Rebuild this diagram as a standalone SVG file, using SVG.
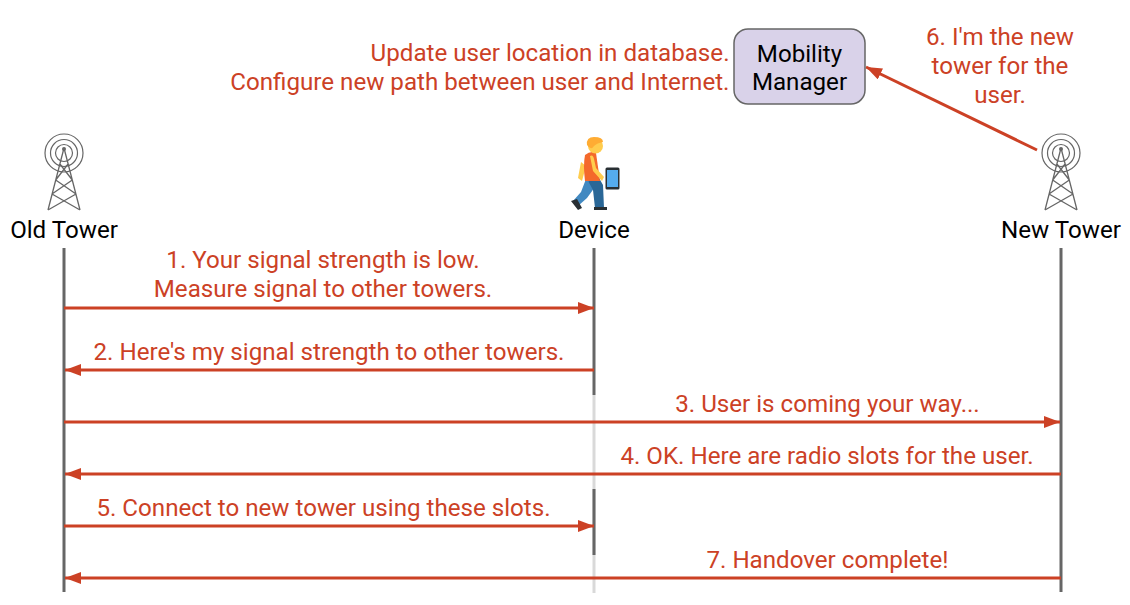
<svg xmlns="http://www.w3.org/2000/svg" width="1130" height="605" viewBox="0 0 1130 605">
<defs>
<marker id="ah" markerUnits="userSpaceOnUse" markerWidth="17" markerHeight="12" refX="16" refY="6" orient="auto"><path d="M0,0 L16,6 L0,12 Z" fill="#cc4125"/></marker>
<g id="tw" fill="none" stroke="#666" stroke-width="1.2">
<circle cx="0" cy="-57" r="19"/><circle cx="0" cy="-57" r="13.5"/><circle cx="0" cy="-57" r="8.5"/>
<path d="M-16,0 L0,-62 L16,0 M-16,0 L12,-16 M16,0 L-12,-16 M-12,-16 L8.300,-30 M12,-16 L-8.300,-30 M-8.300,-30 L4.100,-46 M8.300,-30 L-4.100,-46" stroke-width="1.300"/>
<circle cx="0" cy="-61" r="2" fill="#666" stroke="none"/>
</g>
<style>
text{font-family:Roboto,"Liberation Sans",sans-serif;font-size:24.15px}
.r{fill:#cc4125}.k{fill:#000}.m{text-anchor:middle}.e{text-anchor:end}
.ll{stroke:#666;stroke-width:3;fill:none}
.lf{stroke:#d9d9d9;stroke-width:3;fill:none}
.c{stroke:#cc4125;stroke-width:3;fill:none;marker-end:url(#ah)}
</style>
</defs>
<g id="lifelines">
<path class="lf" d="M594,395V593"/>
<path class="ll" d="M64,248V592"/>
<path class="ll" d="M594,248V395M594,489V555"/>
<path class="ll" d="M1061,248V592"/>
</g>
<g id="connectors">
<path class="c" d="M64,308H594"/>
<path class="c" d="M594,370H65"/>
<path class="c" d="M64,422H1060"/>
<path class="c" d="M1061,474H65"/>
<path class="c" d="M64,526H594"/>
<path class="c" d="M1061,578H65"/>
<path class="c" d="M1037,150L866,67"/>
</g>
<g id="old-tower"><use href="#tw" x="64" y="210"/><text class="k m" x="64" y="238">Old Tower</text></g>
<g id="new-tower"><use href="#tw" x="1061" y="210"/><text class="k m" x="1061" y="238">New Tower</text></g>
<g id="device">
<path d="M581,162 L578,178 L582,181 L586,166 Z" fill="#ffcc4d"/>
<path d="M586,179 L581,192 L573,201 L578,206 L587,198 L595,187 Z" fill="#4289c1"/>
<path d="M587,179 L593,190 L595,208 L604,208 L603,185 L599,178 Z" fill="#2a6797"/>
<path d="M571,201 L577,199 L582,208 L578,210 Z M594,207 H607 V210 H594 Z" fill="#292f33"/>
<path d="M585,155 Q591,150 596,153 L600,181 L585,181 Q583,165 585,155 Z" fill="#f4692b"/>
<path d="M590,156 Q593,154 594,159 L596,168 L604,177 L602,181 L593,171 Z" fill="#ffcc4d"/>
<circle cx="595.500" cy="146" r="7.500" fill="#ffcc4d"/>
<path d="M587,145 Q586,137 594,137 Q603,137 603,142 Q597,143 594,146 Q591,151 587,145Z" fill="#ffac33"/>
<rect x="605.500" y="167.500" width="14" height="22" rx="1.500" fill="#292f33"/><rect x="607" y="170" width="11" height="17" fill="#55acee"/>
<text class="k m" x="594" y="238">Device</text>
</g>
<g id="mobility-manager">
<rect x="734" y="29" width="131" height="75" rx="14" fill="#d9d2e9" stroke="#666" stroke-width="1.500"/>
<text class="k m" x="799.500" y="62">Mobility</text>
<text class="k m" x="799.500" y="90">Manager</text>
</g>
<g id="labels">
<text class="r e" x="729.500" y="61">Update user location in database.</text>
<text class="r e" x="729.500" y="90">Configure new path between user and Internet.</text>
<text class="r m" x="1000" y="45">6. I'm the new</text>
<text class="r m" x="1000" y="74">tower for the</text>
<text class="r m" x="1000" y="103">user.</text>
<text class="r m" x="323" y="268">1. Your signal strength is low.</text>
<text class="r m" x="323" y="297">Measure signal to other towers.</text>
<text class="r m" x="329" y="360">2. Here's my signal strength to other towers.</text>
<text class="r m" x="827.500" y="412">3. User is coming your way...</text>
<text class="r m" x="827" y="464">4. OK. Here are radio slots for the user.</text>
<text class="r m" x="323.500" y="516">5. Connect to new tower using these slots.</text>
<text class="r m" x="827.500" y="568">7. Handover complete!</text>
</g>
</svg>
